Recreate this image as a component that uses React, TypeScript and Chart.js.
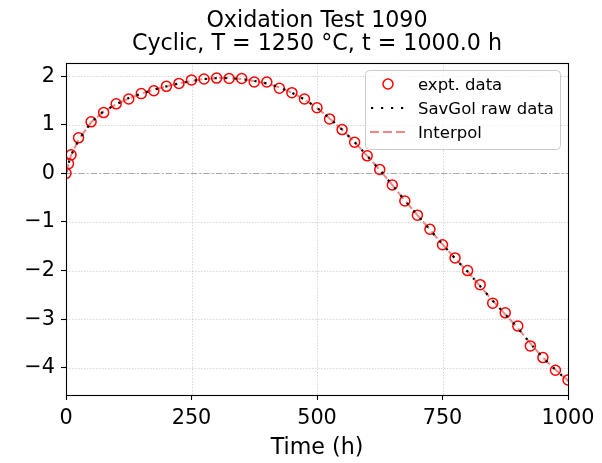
import React, { useEffect, useRef } from "react";
import { Chart, registerables } from "chart.js";

Chart.register(...registerables);

const TITLE_LINES = ["Oxidation Test 1090", "Cyclic, T = 1250 °C, t = 1000.0 h"];
const X_LABEL = "Time (h)";
const LEGEND_LABELS = ["expt. data", "SavGol raw data", "Interpol"];

const TIME_H = [
  0, 5, 10, 25, 50, 75, 100, 125, 150, 175, 200, 225, 250, 275, 300, 325, 350, 375, 400, 425, 450,
  475, 500, 525, 550, 575, 600, 625, 650, 675, 700, 725, 750, 775, 800, 825, 850, 875, 900, 925, 950,
  975, 1000,
];
const EXPT_DATA = [
  0.0, 0.2, 0.38, 0.73, 1.06, 1.25, 1.43, 1.53, 1.64, 1.7, 1.79, 1.85, 1.92, 1.94, 1.96, 1.95, 1.95,
  1.88, 1.88, 1.75, 1.66, 1.53, 1.35, 1.12, 0.9, 0.64, 0.36, 0.08, -0.24, -0.57, -0.86, -1.15, -1.47,
  -1.74, -2.0, -2.29, -2.67, -2.87, -3.14, -3.55, -3.79, -4.05, -4.25,
];
const SAVGOL_DATA = [
  0.02, 0.2, 0.37, 0.68, 1.05, 1.28, 1.42, 1.55, 1.64, 1.72, 1.79, 1.85, 1.9, 1.94, 1.96, 1.96, 1.94,
  1.9, 1.85, 1.77, 1.66, 1.52, 1.35, 1.13, 0.9, 0.64, 0.36, 0.07, -0.24, -0.56, -0.86, -1.16, -1.46,
  -1.75, -2.02, -2.32, -2.62, -2.9, -3.18, -3.5, -3.79, -4.04, -4.27,
];
const INTERPOL_DATA = [
  0.01, 0.2, 0.37, 0.69, 1.05, 1.27, 1.42, 1.54, 1.64, 1.72, 1.79, 1.85, 1.9, 1.94, 1.96, 1.96, 1.94,
  1.9, 1.85, 1.77, 1.66, 1.52, 1.35, 1.13, 0.9, 0.64, 0.36, 0.07, -0.24, -0.56, -0.86, -1.16, -1.46,
  -1.75, -2.02, -2.32, -2.62, -2.9, -3.18, -3.5, -3.79, -4.04, -4.26,
];

const X_TICKS = [0, 250, 500, 750, 1000];
const Y_TICKS = [-4, -3, -2, -1, 0, 1, 2];
const X_MIN = 0;
const X_MAX = 1000;
const Y_MIN = -4.56;
const Y_MAX = 2.27;

const FONT = '"DejaVu Sans", sans-serif';
const RED = "#ff0000";
const SALMON = "rgba(240,128,128,0.95)";

const fmt = (v: number) => (v < 0 ? "\u2212" + Math.abs(v) : String(v));
const pts = (ys: number[]) => TIME_H.map((t, i) => ({ x: t, y: ys[i] }));

export default function App() {
  const ref = useRef<HTMLCanvasElement>(null);

  useEffect(() => {
    const canvas = ref.current!;

    const decor = {
      id: "decor",
      beforeDatasetsDraw(chart: any) {
        const { ctx, chartArea: a, scales } = chart;
        const x = scales.x;
        const y = scales.y;
        ctx.save();
        ctx.strokeStyle = "rgba(176,176,176,0.5)";
        ctx.lineWidth = 1;
        ctx.setLineDash([1.5, 1.5]);
        for (const t of X_TICKS) {
          const px = Math.round(x.getPixelForValue(t)) + 0.5;
          ctx.beginPath();
          ctx.moveTo(px, a.top);
          ctx.lineTo(px, a.bottom);
          ctx.stroke();
        }
        for (const t of Y_TICKS) {
          const py = Math.round(y.getPixelForValue(t)) + 0.5;
          ctx.beginPath();
          ctx.moveTo(a.left, py);
          ctx.lineTo(a.right, py);
          ctx.stroke();
        }
        // zero line (dash-dot)
        ctx.strokeStyle = "rgba(150,150,150,0.8)";
        ctx.setLineDash([6, 2.5, 1.5, 2.5]);
        const y0 = Math.round(y.getPixelForValue(0)) + 0.5;
        ctx.beginPath();
        ctx.moveTo(a.left, y0);
        ctx.lineTo(a.right, y0);
        ctx.stroke();
        ctx.restore();
      },
      afterDatasetsDraw(chart: any) {
        const { ctx, chartArea: a } = chart;
        ctx.save();
        ctx.strokeStyle = "#000";
        ctx.lineWidth = 1.1;
        ctx.setLineDash([]);
        ctx.strokeRect(Math.round(a.left) + 0.5, Math.round(a.top) + 0.5, Math.round(a.right - a.left), Math.round(a.bottom - a.top));
        ctx.restore();
      },
      afterDraw(chart: any) {
        const { ctx, chartArea: a } = chart;
        const cx = (a.left + a.right) / 2;
        ctx.save();
        ctx.fillStyle = "#000";
        ctx.textAlign = "center";
        ctx.textBaseline = "alphabetic";
        ctx.font = `22.2px ${FONT}`;
        ctx.fillText(TITLE_LINES[0], cx, 26.5);
        ctx.fillText(TITLE_LINES[1], cx, 50);
        ctx.fillText(X_LABEL, cx, 454);

        // legend
        const bx = 365.5, by = 70.5, bw = 195, bh = 79;
        ctx.beginPath();
        ctx.roundRect(bx, by, bw, bh, 4);
        ctx.fillStyle = "rgba(255,255,255,0.8)";
        ctx.fill();
        ctx.strokeStyle = "#cccccc";
        ctx.lineWidth = 1;
        ctx.stroke();

        const rows = [90.3, 114.3, 138.3];
        const mid = [84, 108, 132];
        ctx.font = `16.5px ${FONT}`;
        ctx.textAlign = "left";
        ctx.fillStyle = "#000";
        LEGEND_LABELS.forEach((lab, i) => ctx.fillText(lab, 418, rows[i]));

        // marker 1: circle
        ctx.beginPath();
        ctx.arc(388, mid[0], 5, 0, Math.PI * 2);
        ctx.strokeStyle = RED;
        ctx.lineWidth = 1.5;
        ctx.stroke();
        // marker 2: dotted black
        ctx.beginPath();
        ctx.setLineDash([2.2, 7.8]);
        ctx.strokeStyle = "#000";
        ctx.lineWidth = 2.2;
        ctx.moveTo(371, mid[1]);
        ctx.lineTo(405, mid[1]);
        ctx.stroke();
        // marker 3: salmon dashed
        ctx.beginPath();
        ctx.setLineDash([9, 4]);
        ctx.strokeStyle = SALMON;
        ctx.lineWidth = 1.8;
        ctx.moveTo(370, mid[2]);
        ctx.lineTo(405, mid[2]);
        ctx.stroke();
        ctx.restore();
      },
    };

    const chart = new Chart(canvas, {
      type: "scatter",
      data: {
        datasets: [
          {
            label: LEGEND_LABELS[1],
            data: pts(SAVGOL_DATA),
            showLine: true,
            borderColor: "#000",
            borderWidth: 2.2,
            borderDash: [2.2, 7.8],
            pointRadius: 0,
            fill: false,
            clip: 0,
          },
          {
            label: LEGEND_LABELS[0],
            data: pts(EXPT_DATA),
            showLine: false,
            pointStyle: "circle",
            pointRadius: 5,
            pointBorderWidth: 1.5,
            pointBorderColor: RED,
            pointBackgroundColor: "rgba(0,0,0,0)",
            borderColor: RED,
            backgroundColor: "rgba(0,0,0,0)",
            clip: 0,
          },
          {
            label: LEGEND_LABELS[2],
            data: pts(INTERPOL_DATA),
            showLine: true,
            borderColor: SALMON,
            borderWidth: 2,
            borderDash: [9, 4],
            pointRadius: 0,
            fill: false,
            clip: 0,
          },
        ],
      },
      options: {
        animation: false,
        responsive: false,
        devicePixelRatio: 1,
        layout: { padding: { top: 63, right: 34, bottom: 0, left: 0 } },
        plugins: {
          legend: { display: false },
          title: { display: false },
          tooltip: { enabled: false },
        },
        scales: {
          x: {
            type: "linear",
            min: X_MIN,
            max: X_MAX,
            afterBuildTicks: (s: any) => {
              s.ticks = X_TICKS.map((v) => ({ value: v }));
            },
            afterFit: (s: any) => {
              s.height = 68;
            },
            border: { display: false },
            grid: {
              drawOnChartArea: false,
              drawTicks: true,
              tickLength: 5,
              tickColor: "#000",
              tickWidth: 1.1,
            },
            ticks: {
              color: "#000",
              font: { family: FONT, size: 20.8 },
              padding: 6,
              maxRotation: 0,
              autoSkip: false,
              callback: (v: any) => fmt(Number(v)),
            },
          },
          y: {
            type: "linear",
            min: Y_MIN,
            max: Y_MAX,
            afterBuildTicks: (s: any) => {
              s.ticks = Y_TICKS.map((v) => ({ value: v }));
            },
            afterFit: (s: any) => {
              s.width = 66;
            },
            border: { display: false },
            grid: {
              drawOnChartArea: false,
              drawTicks: true,
              tickLength: 5,
              tickColor: "#000",
              tickWidth: 1.1,
            },
            ticks: {
              color: "#000",
              font: { family: FONT, size: 20.8 },
              padding: 6,
              autoSkip: false,
              callback: (v: any) => fmt(Number(v)),
            },
          },
        },
      },
      plugins: [decor],
    } as any);

    return () => chart.destroy();
  }, []);

  return (
    <div style={{ position: "absolute", left: 0, top: 0, width: 602, height: 463, background: "#fff" }}>
      <canvas ref={ref} width={602} height={463} style={{ display: "block" }} />
    </div>
  );
}
